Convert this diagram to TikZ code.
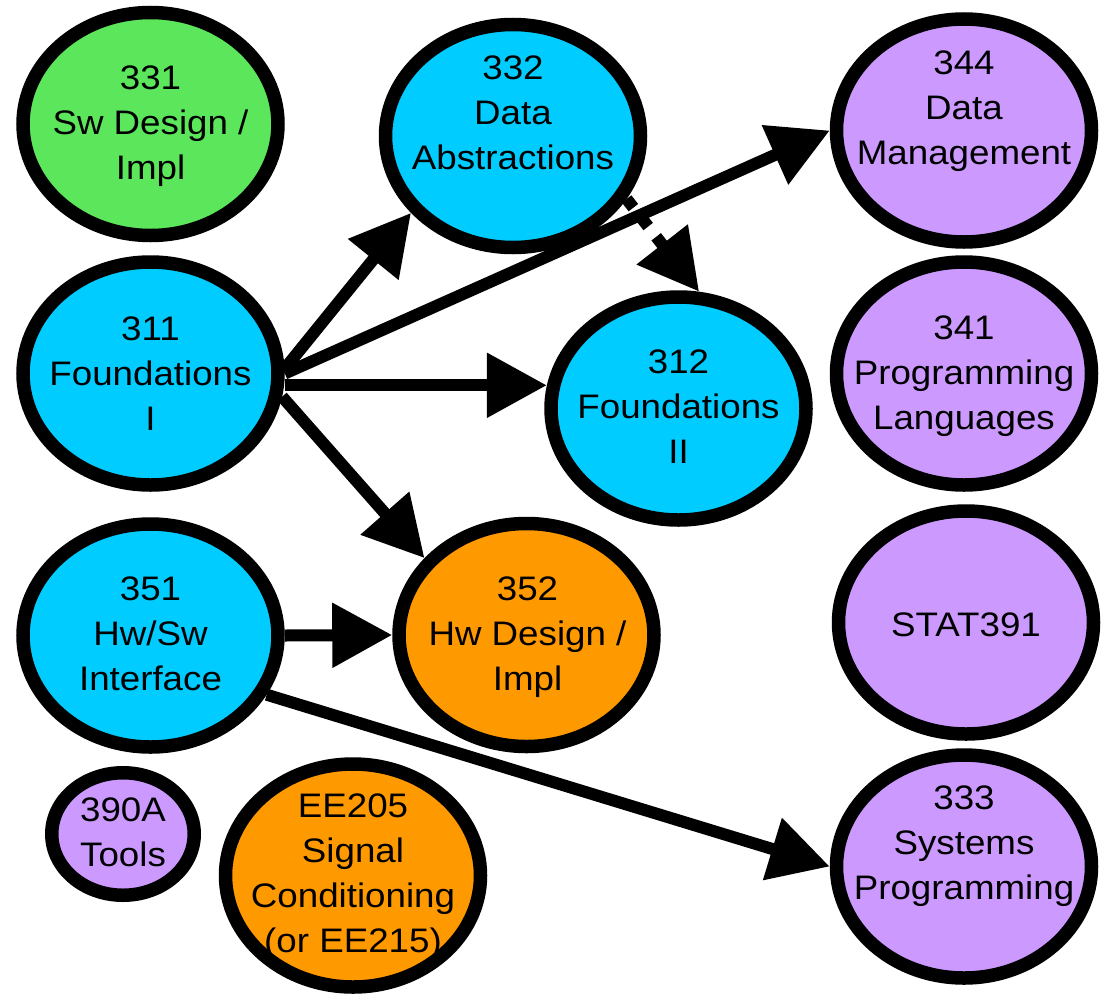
\documentclass[tikz,border=0pt]{standalone}
\usepackage{fontspec}
\setmainfont{Liberation Sans}
\newfontfamily\capfont[FakeStretch=1.08]{Liberation Sans}
\usetikzlibrary{arrows.meta,shapes.geometric}

\definecolor{swgreen}{RGB}{92,230,92}
\definecolor{swcyan}{RGB}{0,204,255}
\definecolor{hworange}{RGB}{255,153,0}
\definecolor{lilac}{RGB}{204,153,255}

% strut that puts the cap-height centre of each line on the line's axis
\newcommand\lnstrut{\rule[-10.3pt]{0pt}{45pt}}

\begin{document}
\begin{tikzpicture}[x=1pt,y=-1pt,
  course/.style={ellipse, draw=black, line width=13.5pt,
    minimum width=255pt, minimum height=223pt, inner sep=0pt},
  small course/.style={course, minimum width=142.5pt, minimum height=122.5pt},
  caption/.style={align=center, inner sep=0pt,
    font=\capfont\fontsize{34}{45}\selectfont,
    execute at begin node=\lnstrut, execute at end node=\lnstrut},
  link/.style={line width=12pt, -{Triangle[length=60pt,width=62pt]}},
  optional link/.style={link, dash pattern=on 11pt off 13pt}]

\useasboundingbox (0,0) rectangle (1105,993);

% course ellipses
\node[course, fill=swgreen]  (c331)  at (150.5,124)   {};
\node[course, fill=swcyan]   (c332)  at (513,136)     {};
\node[course, fill=swcyan]   (c311)  at (150.5,373.5) {};
\node[course, fill=swcyan]   (c312)  at (678.5,408.5) {};
\node[course, fill=swcyan]   (c351)  at (150.5,635.5) {};
\node[course, fill=hworange] (c352)  at (526.5,635)   {};
\node[course, fill=lilac]    (c344)  at (964,130.5)   {};
\node[course, fill=lilac]    (c341)  at (964,373.5)   {};
\node[course, fill=lilac]    (cstat) at (966,622.5)   {};
\node[course, fill=lilac]    (c333)  at (964,866.5)   {};
\node[small course, fill=lilac] (c390) at (123,834)   {};
\node[course, fill=hworange] (cee)   at (353,875.5)   {};

% prerequisite arrows
\draw[optional link] (c332.-29) -- (c312.80);
\draw[link] (c311.2) -- (c332.217);
\draw[link] (c311.east) -- (c344.west);
\draw[link] (c311.east |- c312.170) -- (c312.170);
\draw[link] (c311.-10) -- (c352.143);
\draw[link] (c351.east) -- (c352.west);
\draw[link] (c351.-27) -- (c333.west);

% course labels
\node[caption] (t331)  at (150.5,128) {331\\Sw Design /\\Impl};
\node[caption] (t332)  at (513,118)   {332\\Data\\Abstractions};
\node[caption] (t311)  at (150.5,378.5) {311\\Foundations\\I};
\node[caption] (t312)  at (678.5,412) {312\\Foundations\\II};
\node[caption] (t351)  at (150.5,639) {351\\Hw/Sw\\Interface};
\node[caption] (t352)  at (527.5,639) {352\\Hw Design /\\Impl};
\node[caption] (t344)  at (964,113)   {344\\Data\\Management};
\node[caption] (t341)  at (964,378)   {341\\Programming\\Languages};
\node[caption] (tstat) at (966,624.5) {STAT391};
\node[caption] (t333)  at (964,848)   {333\\Systems\\Programming};
\node[caption] (t390)  at (123,837)   {390A\\Tools};
\node[caption] (tee)   at (353,878)   {EE205\\Signal\\Conditioning\\(or EE215)};

\end{tikzpicture}
\end{document}
